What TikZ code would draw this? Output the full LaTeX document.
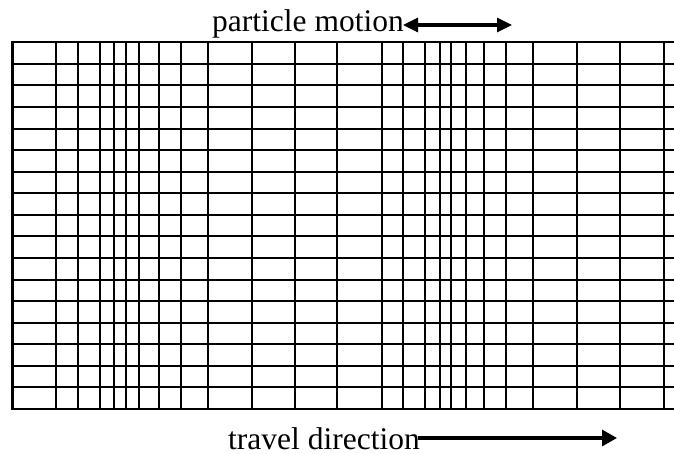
\documentclass[tikz,border=0pt]{standalone}
\usepackage{fontspec}
\setmainfont{Liberation Serif}
\usetikzlibrary{arrows.meta}
\begin{document}
\begin{tikzpicture}[x=1pt,y=-1pt,
  gridline/.style={line width=2pt,black},
  borderline/.style={line width=2.6pt,black},
  label/.style={anchor=base west,inner sep=0pt,font=\fontsize{31.5}{36}\selectfont},
  bigarrow/.style={line width=3.2pt,-{Triangle[length=15pt,width=16pt]}},
  dblarrow/.style={line width=3.2pt,{Triangle[length=15pt,width=14pt]}-{Triangle[length=15pt,width=14pt]}}]
\useasboundingbox (0,0) rectangle (674,454);
% horizontal lines
\foreach \k in {0,...,17}{
  \pgfmathsetmacro{\yy}{42.3+\k*21.57}
  \draw[gridline] (12.7,\yy) -- (676,\yy);
}
% vertical lines
\foreach \xx in {55.7,78.3,100,114.3,126.3,139.3,159,180.7,208,251.7,295.3,337.3,381.7,403.3,425,439.7,451.3,465.7,484,505.7,533.3,577,619.5,663.5}{
  \draw[gridline] (\xx,42.3) -- (\xx,409);
}
\draw[borderline] (12.7,41.3) -- (12.7,410);
\draw[borderline] (11.4,409) -- (676,409);
% labels
\node[label] (pm) at (212,31.7) {particle motion};
\coordinate (pmL) at (403,25);
\coordinate (pmR) at (512,25);
\draw[dblarrow] (pmL) -- (pmR);
\node[label] (td) at (228,449.3) {travel direction};
\coordinate (tdL) at (418,438);
\coordinate (tdR) at (617,438);
\draw[bigarrow] (tdL) -- (tdR);
\end{tikzpicture}
\end{document}
